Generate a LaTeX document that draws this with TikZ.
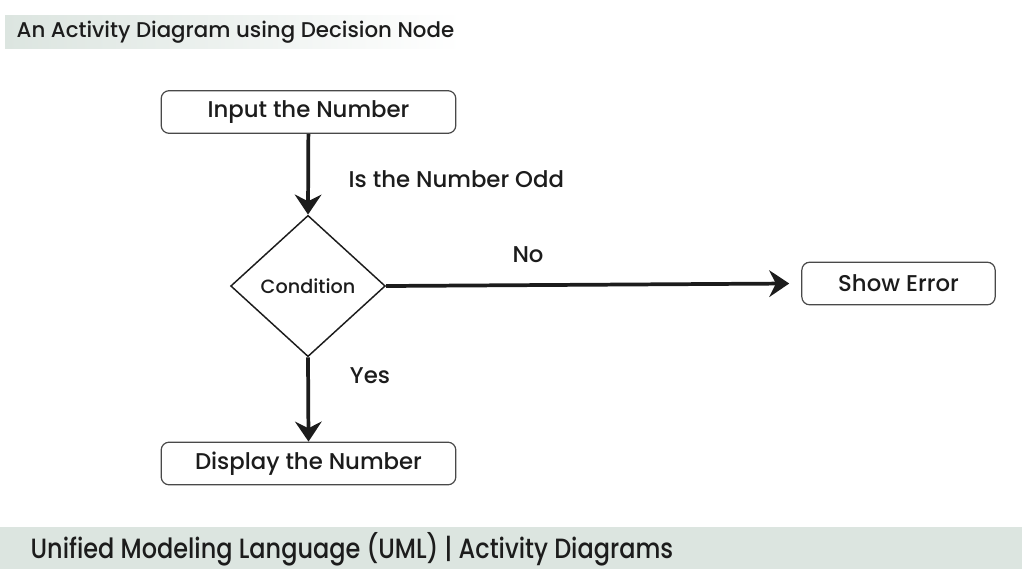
\documentclass[tikz,border=0pt]{standalone}
\usepackage{fontspec}
\setmainfont{Poppins Medium}
\newfontfamily\footfont[FakeStretch=0.86]{Poppins Medium}
\usetikzlibrary{arrows.meta,shapes.geometric}
\definecolor{bandgreen}{RGB}{220,229,224}
\definecolor{ink}{RGB}{28,28,28}
\tikzset{
  action/.style={draw=ink!80, line width=0.9pt, rounded corners=6pt, fill=white,
    font=\fontsize{17.1}{20}\selectfont, text=ink, inner sep=0pt},
  decision/.style={diamond, draw=ink, line width=1.1pt, aspect=1.1, inner sep=0pt,
    minimum width=116pt, minimum height=106pt, font=\fontsize{14.4}{17}\selectfont, text=ink},
  flow/.style={-{Stealth[length=15pt, width=20pt, inset=5pt]}, line width=2.8pt, draw=ink},
  lab/.style={font=\fontsize{17.1}{20}\selectfont, text=ink},
}
\begin{document}
\begin{tikzpicture}[x=0.75pt, y=-0.75pt]
  \useasboundingbox (0,0) rectangle (1022,569);

  % Header and footer bands
  \shade[left color=bandgreen, right color=white] (5,15) rectangle (462,48);
  \node[anchor=west, font=\fontsize{16}{19}\selectfont, text=ink] (title) at (12,32)
    {An Activity Diagram using Decision Node};
  \fill[bandgreen] (0,527) rectangle (1022,569);
  \node[anchor=west, font=\footfont\fontsize{20.9}{24}\selectfont, text=ink] (footer) at (26,549)
    {Unified Modeling Language (UML) | Activity Diagrams};

  % Activity nodes
  \node[action, minimum width=221pt, minimum height=32pt] (input) at (308.5,112) {Input the Number};
  \node[decision] (cond) at (308,286) {Condition};
  \node[action, minimum width=145pt, minimum height=32pt] (error) at (898.5,283.5) {Show Error};
  \node[action, minimum width=221pt, minimum height=32pt] (display) at (308.5,463.5) {Display the Number};

  % Flows
  \draw[flow] (input) -- (cond.north);
  \draw[flow] (cond.east) -- ([xshift=-9pt]error.west);
  \draw[flow] (cond.south) -- (display.north);

  % Guards
  \node[lab, anchor=west] (odd) at (344,179) {Is the Number Odd};
  \node[lab] (no) at (528,255) {No};
  \node[lab] (yes) at (370,376) {Yes};

\end{tikzpicture}
\end{document}
